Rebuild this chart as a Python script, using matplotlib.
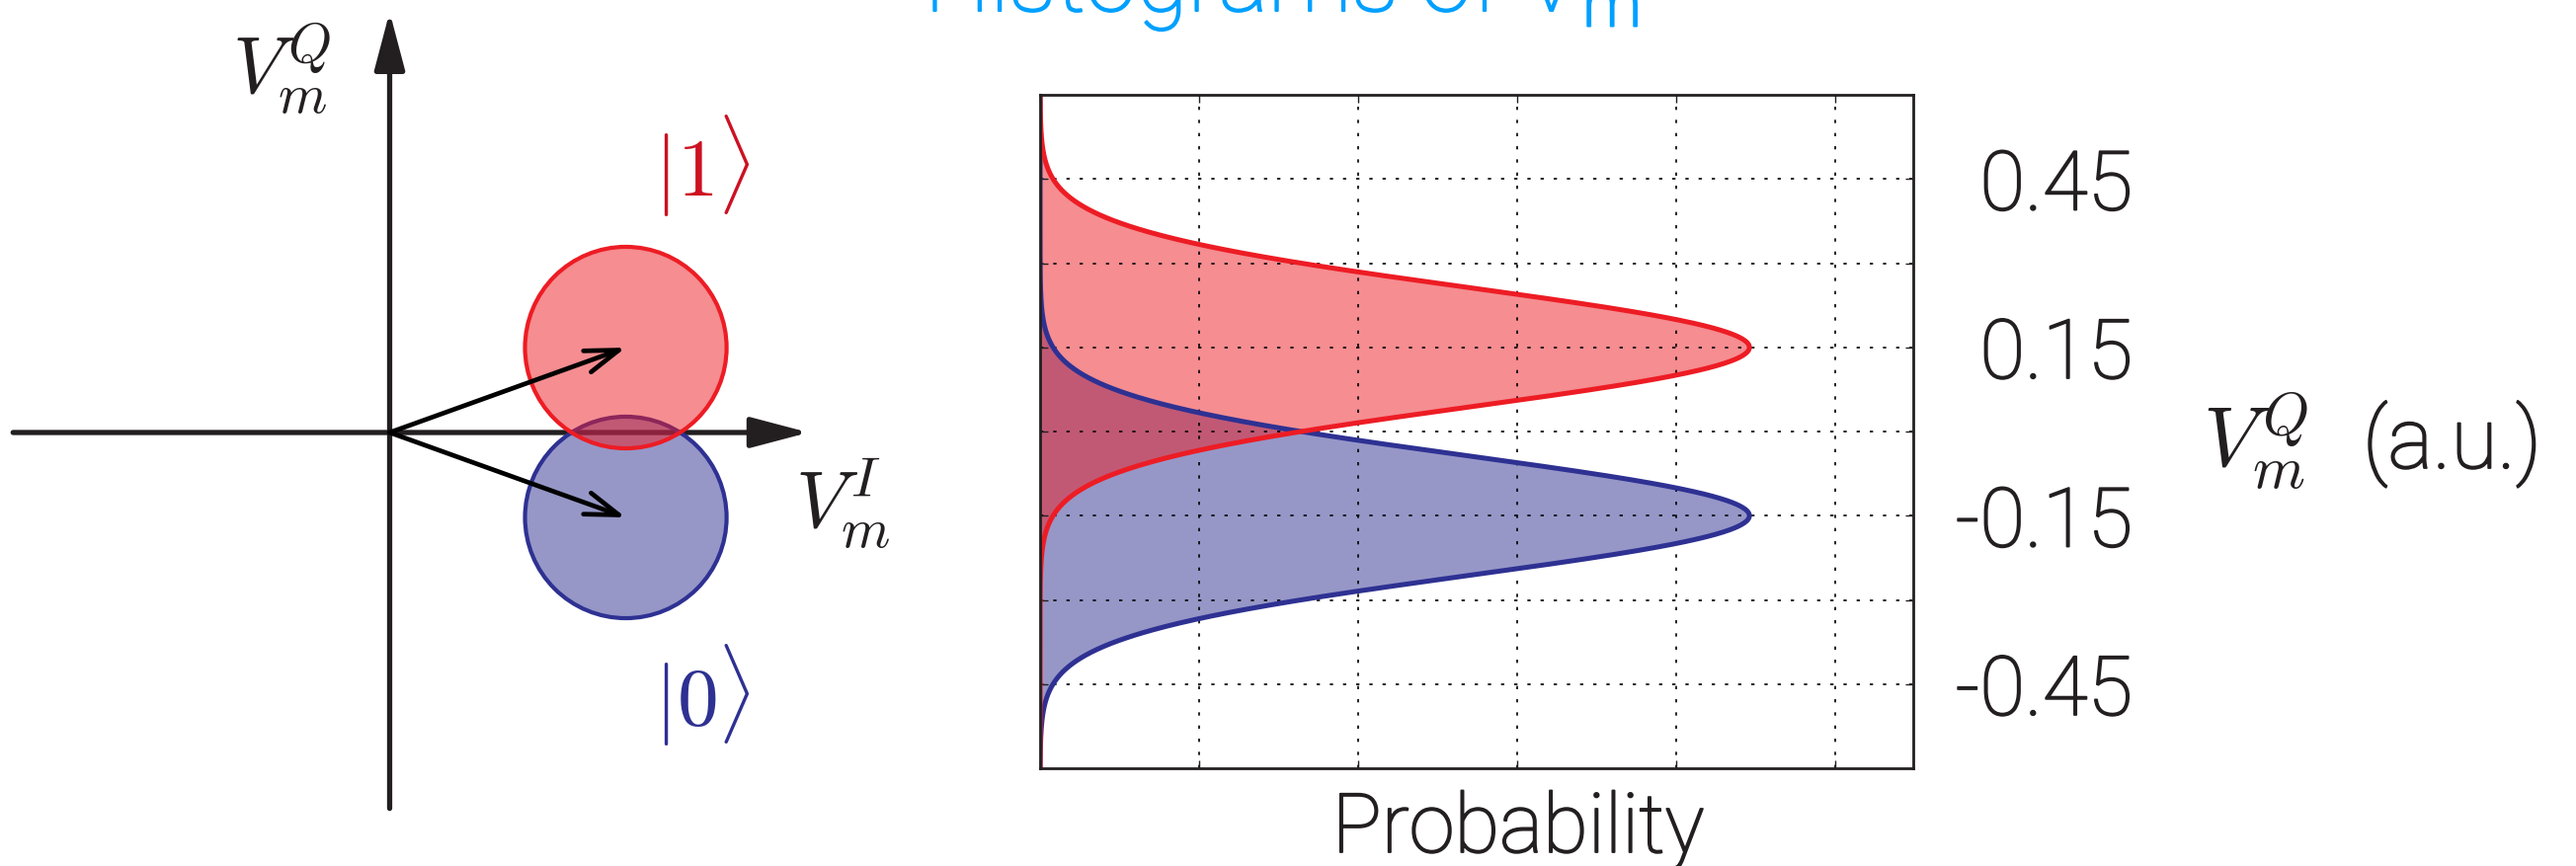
import numpy as np
import matplotlib.pyplot as plt
import matplotlib.patheffects as pe
from matplotlib.patches import Circle, ArrowStyle

plt.rcParams['mathtext.fontset'] = 'cm'
plt.rcParams['font.family'] = ['Roboto', 'DejaVu Sans']
plt.rcParams['font.weight'] = 'light'

W, H = 2608, 877

# two readout states, |1> first, |0> second
state_names = [r'$|1\rangle$', r'$|0\rangle$']
state_i = [0.417, 0.417]
state_q = [0.15, -0.15]
blob_radius = 0.178
hist_peak = [4.46, 4.46]
hist_width = 0.15

ytick_vals = [0.45, 0.30, 0.15, 0.0, -0.15, -0.30, -0.45]
ytick_text = ['0.45', '', '0.15', '', '-0.15', '', '-0.45']
xtick_vals = [0, 1, 2, 3, 4, 5]

fill_cols = [(0.93, 0.11, 0.14, 0.5), (0.18, 0.19, 0.57, 0.5)]
line_cols = ['#ed1c24', '#2e3192']
text_cols = ['#cc1122', '#2e3192']
ink = '#231f20'
title_col = '#00a0ff'


def px(x, y):
    return x / W, 1 - y / H


def thicker(col):
    # light font is a bit too thin, so add a hairline outline
    return [pe.withStroke(linewidth=1.3, foreground=col)]


fig = plt.figure(figsize=(W / 100, H / 100), dpi=100)

# ---- left: sketch of the IQ plane ----
scale = 573.3  # pixels per unit
ox, oy = 394.5, 438
axl = fig.add_axes([0, 0, 1000 / W, 1])
axl.set_xlim(-ox / scale, (1000 - ox) / scale)
axl.set_ylim((oy - H) / scale, oy / scale)
axl.axis('off')

big_head = ArrowStyle('-|>', head_length=36, head_width=9.5)
axl.annotate('', xy=(0.740, 0), xytext=(-0.665, 0),
             arrowprops=dict(arrowstyle=big_head, mutation_scale=1, lw=3.8,
                             color=ink, shrinkA=0, shrinkB=0), zorder=1)
axl.annotate('', xy=(0, 0.743), xytext=(0, -0.664),
             arrowprops=dict(arrowstyle=big_head, mutation_scale=1, lw=3.8,
                             color=ink, shrinkA=0, shrinkB=0), zorder=1)

for k in [1, 0]:
    axl.add_patch(Circle((state_i[k], state_q[k]), blob_radius,
                         facecolor=fill_cols[k], edgecolor=line_cols[k],
                         lw=3, zorder=3 - k))

small_head = ArrowStyle('->', head_length=24.5, head_width=8.2)
for k in range(2):
    axl.annotate('', xy=(state_i[k], state_q[k]), xytext=(0, 0),
                 arrowprops=dict(arrowstyle=small_head, mutation_scale=1, lw=3.4,
                                 color='black', shrinkA=0, shrinkB=0), zorder=5)

fig.text(*px(235, 95), r'$V_m^Q$', fontsize=58, color=ink, va='baseline')
fig.text(*px(805, 534), r'$V_m^I$', fontsize=58, color=ink, va='baseline')
fig.text(*px(662, 199), state_names[0], fontsize=60, color=text_cols[0], va='baseline')
fig.text(*px(662, 735), state_names[1], fontsize=60, color=text_cols[1], va='baseline')

# ---- right: histograms ----
axr = fig.add_axes([1053 / W, 1 - 778 / H, 884 / W, 682 / H])
v = np.linspace(-0.6, 0.6, 1201)
curves = [hist_peak[k] * np.exp(-((v - state_q[k]) / hist_width) ** 2) for k in range(2)]

for k in [1, 0]:
    axr.fill_betweenx(v, 0, curves[k], color=fill_cols[k], lw=0)
for k in [1, 0]:
    axr.plot(curves[k], v, color=line_cols[k], lw=3.6)

axr.set_xlim(0, 5.49)
axr.set_ylim(-0.6, 0.6)
axr.set_xticks(xtick_vals)
axr.set_xticklabels([])
axr.set_yticks(ytick_vals)
axr.set_yticklabels(ytick_text)
axr.set_axisbelow('line')
axr.grid(True, color='black', linestyle=(0, (2, 6)), lw=1.2)
axr.tick_params(direction='in', length=6, width=1, color=ink,
                top=True, bottom=True, left=True, right=True)
axr.tick_params(axis='y', labelleft=False, labelright=True, pad=160,
                labelsize=60, labelcolor=ink)
plt.setp(axr.get_yticklabels(), ha='right', path_effects=thicker(ink))
for s in axr.spines.values():
    s.set_linewidth(2)
    s.set_color(ink)

fig.text(*px(1537, 863), 'Probability', fontsize=60, color=ink, ha='center',
         va='baseline', path_effects=thicker(ink))
fig.text(*px(2230, 474), r'$V_m^Q$', fontsize=62, color=ink, va='baseline')
fig.text(*px(2392, 474), '(a.u.)', fontsize=62, color=ink, va='baseline',
         path_effects=thicker(ink))
fig.text(*px(936, 12), r'Histograms of V$_\mathrm{m}$', fontsize=68, color=title_col,
         va='baseline', math_fontfamily='dejavusans', path_effects=thicker(title_col))

fig.savefig('out.png', dpi=100)
